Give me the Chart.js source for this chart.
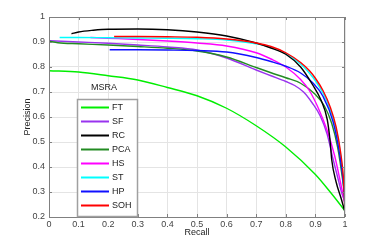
<!DOCTYPE html>
<html><head><meta charset="utf-8">
<script src="https://cdn.jsdelivr.net/npm/chart.js@4/dist/chart.umd.min.js"></script>
<style>html,body{margin:0;padding:0;background:#fff}#wrap{width:382px;height:245px}</style>
</head><body><div id="wrap"><canvas id="c" width="382" height="245"></canvas></div>
<script>
const X_TICKS = ['0','0.1','0.2','0.3','0.4','0.5','0.6','0.7','0.8','0.9','1'];
const Y_TICKS = ['0.2','0.3','0.4','0.5','0.6','0.7','0.8','0.9','1'];
const SERIES_NAMES = ['FT','SF','RC','PCA','HS','ST','HP','SOH'];
const SERIES_COLORS = ['#00ee00','#9933ee','#000000','#228b22','#ff00ff','#00ffff','#1010ff','#ff0000'];

const FT_R = [0,0.1,0.2,0.3,0.4,0.5,0.6,0.7,0.8,0.9,0.95,1];
const FT_P = [0.785,0.78,0.765,0.748,0.718,0.685,0.635,0.565,0.48,0.37,0.30,0.225];
const SF_R = [0,0.1,0.2,0.3,0.4,0.5,0.6,0.7,0.75,0.8,0.83,0.86,0.89,0.916,0.94,0.96,0.975,0.988,1];
const SF_P = [0.905,0.90,0.895,0.888,0.88,0.868,0.836,0.788,0.765,0.742,0.726,0.70,0.655,0.605,0.53,0.43,0.36,0.30,0.26];
const RC_R = [0.076,0.1,0.15,0.2,0.3,0.4,0.5,0.6,0.7,0.75,0.8,0.85,0.89,0.92,0.94,0.95,0.955,0.97,0.988,1];
const RC_P = [0.933,0.94,0.947,0.951,0.952,0.949,0.94,0.924,0.896,0.876,0.851,0.80,0.73,0.665,0.59,0.50,0.43,0.34,0.27,0.22];
const PCA_R = [0,0.03,0.1,0.2,0.3,0.4,0.5,0.6,0.7,0.75,0.8,0.85,0.9,0.93,0.955,0.975,0.993,1];
const PCA_P = [0.903,0.897,0.893,0.888,0.882,0.875,0.864,0.84,0.798,0.777,0.757,0.735,0.69,0.645,0.575,0.48,0.34,0.27];
const HS_R = [0.14,0.2,0.3,0.4,0.5,0.6,0.7,0.75,0.8,0.85,0.88,0.91,0.94,0.965,0.988,1];
const HS_P = [0.918,0.915,0.91,0.904,0.896,0.884,0.857,0.832,0.80,0.75,0.705,0.635,0.545,0.445,0.32,0.25];
const ST_R = [0.036,0.1,0.2,0.3,0.4,0.5,0.6,0.7,0.75,0.8,0.85,0.88,0.9,0.926,0.95,0.97,0.985,0.995,1];
const ST_P = [0.918,0.918,0.917,0.916,0.915,0.913,0.908,0.893,0.879,0.853,0.812,0.775,0.745,0.695,0.63,0.55,0.45,0.34,0.23];
const HP_R = [0.205,0.3,0.4,0.5,0.6,0.7,0.75,0.8,0.85,0.89,0.926,0.96,0.982,0.995,1];
const HP_P = [0.869,0.869,0.868,0.866,0.86,0.838,0.822,0.803,0.776,0.738,0.682,0.58,0.45,0.33,0.24];
const SOH_R = [0.22,0.3,0.4,0.5,0.6,0.7,0.75,0.8,0.85,0.88,0.9,0.926,0.95,0.97,0.985,0.995,1];
const SOH_P = [0.922,0.922,0.921,0.919,0.912,0.896,0.882,0.857,0.818,0.785,0.755,0.705,0.64,0.56,0.46,0.35,0.21];

const RS = [FT_R,SF_R,RC_R,PCA_R,HS_R,ST_R,HP_R,SOH_R];
const PS = [FT_P,SF_P,RC_P,PCA_P,HS_P,ST_P,HP_P,SOH_P];
const ORDER = [0,1,3,4,5,6,2,7];

const datasets = SERIES_NAMES.map((n,i)=>({
  label:n,
  data:RS[i].map((r,k)=>({x:r,y:PS[i][k]})),
  borderColor:SERIES_COLORS[i],
  backgroundColor:SERIES_COLORS[i],
  borderWidth:1.4,
  pointRadius:0,
  showLine:true,
  fill:false,
  cubicInterpolationMode:'monotone',
  order: 10-ORDER.indexOf(i)
}));

const FONT = "'Liberation Sans', Arial, sans-serif";

const framePlugin = {
  id:'frame',
  afterDatasetsDraw(chart){
    const {ctx, chartArea:a, scales} = chart;
    ctx.save();
    ctx.strokeStyle='#808080';
    ctx.lineWidth=1;
    ctx.strokeRect(a.left+0.5,a.top+0.5,a.right-a.left-1,a.bottom-a.top);
    ctx.beginPath();
    scales.x.ticks.forEach(t=>{
      const px=Math.round(scales.x.getPixelForValue(t.value))+0.5;
      ctx.moveTo(px,a.top); ctx.lineTo(px,a.top+3);
      ctx.moveTo(px,a.bottom); ctx.lineTo(px,a.bottom-3);
    });
    scales.y.ticks.forEach(t=>{
      const py=Math.round(scales.y.getPixelForValue(t.value))+0.5;
      ctx.moveTo(a.left,py); ctx.lineTo(a.left+3,py);
      ctx.moveTo(a.right,py); ctx.lineTo(a.right-3,py);
    });
    ctx.stroke();
    ctx.restore();
  },
  afterDraw(chart){
    const {ctx} = chart;
    ctx.save();
    ctx.font = "9px " + FONT;
    ctx.fillStyle='#222';
    ctx.textAlign='center'; ctx.textBaseline='middle';
    ctx.fillText('MSRA',104,88);
    const bx=77, by=99, bw=60, bh=117;
    ctx.fillStyle='#fff';
    ctx.fillRect(bx,by,bw,bh);
    ctx.strokeStyle='#a0a0a0';
    ctx.lineWidth=1.5;
    ctx.strokeRect(bx+0.5,by+0.5,bw,bh);
    ctx.textAlign='left';
    SERIES_NAMES.forEach((n,i)=>{
      const y = 107.5 + i*14;
      ctx.strokeStyle=SERIES_COLORS[i];
      ctx.lineWidth=2;
      ctx.beginPath(); ctx.moveTo(81,y); ctx.lineTo(109,y); ctx.stroke();
      ctx.fillStyle='#222';
      ctx.fillText(n,112,y);
    });
    ctx.restore();
  }
};

new Chart(document.getElementById('c'),{
  type:'scatter',
  data:{datasets},
  options:{
    responsive:false,
    animation:false,
    layout:{padding:{left:0,right:37,top:17,bottom:0}},
    plugins:{legend:{display:false},tooltip:{enabled:false}},
    scales:{
      x:{
        type:'linear',min:0,max:1,
        afterFit(s){s.height=28;},
        grid:{color:'#e4e4e4',lineWidth:1,drawTicks:false},
        border:{display:false},
        ticks:{stepSize:0.1,padding:2,color:'#444',font:{size:9,family:FONT},
          callback:(v,i)=>X_TICKS[i]},
        title:{display:true,text:'Recall',color:'#222',font:{size:9,family:FONT},padding:{top:0,bottom:7}}
      },
      y:{
        type:'linear',min:0.2,max:1,
        afterFit(s){s.width=49;},
        grid:{color:'#e4e4e4',lineWidth:1,drawTicks:false},
        border:{display:false},
        ticks:{stepSize:0.1,padding:4,color:'#444',font:{size:9,family:FONT},
          callback:(v,i)=>Y_TICKS[i]},
        title:{display:true,text:'Precision',color:'#222',font:{size:9,family:FONT},padding:{top:22.6,bottom:0}}
      }
    }
  },
  plugins:[framePlugin]
});
</script></body></html>
